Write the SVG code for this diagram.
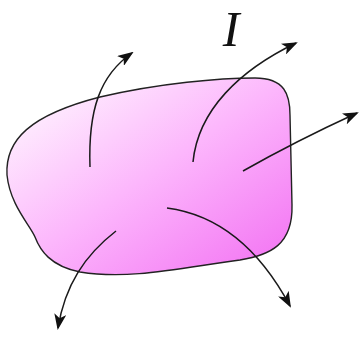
<svg xmlns="http://www.w3.org/2000/svg" width="359" height="337" viewBox="0 0 359 337">
<style>
.blob{stroke:#222;stroke-width:1.4;}
.arr{fill:none;stroke:#1a1a1a;stroke-width:1.5;marker-end:url(#ah);}
.lbl{font-family:"Liberation Serif",serif;font-style:italic;font-size:50px;fill:#111;}
</style>
<defs>
<linearGradient id="g" x1="0" y1="0" x2="1" y2="1">
<stop offset="0" stop-color="#ffffff"/>
<stop offset="0.5" stop-color="#fcb6fc"/>
<stop offset="1" stop-color="#f26ef2"/>
</linearGradient>
<marker id="ah" markerUnits="userSpaceOnUse" markerWidth="16" markerHeight="12" viewBox="0 0 16 12" refX="14" refY="6" orient="auto">
<path d="M0,0 L16,6 L0,12 L4,6 Z" fill="#111"/>
</marker>
</defs>
<g id="region">
<path class="blob" fill="url(#g)" d="M 7,175 C 5,140 30,115 100,97 C 160,83 220,78 255,78 C 285,78 290,95 290,115 L 292,205 C 293,245 270,255 240,260 C 180,268 130,280 80,272 C 50,266 40,250 35,237 C 30,225 10,205 7,175 Z"/>
</g>
<g id="label-I">
<text class="lbl" x="231" y="46" text-anchor="middle">I</text>
</g>
<g id="connectors">
<path class="arr" d="M 90,167 C 88,110 100,75 132,53"/>
<path class="arr" d="M 193,162 C 198,110 240,70 296,43"/>
<path class="arr" d="M 243,171 C 280,150 320,130 357,113"/>
<path class="arr" d="M 167,208 C 220,215 260,250 290,306"/>
<path class="arr" d="M 116,231 C 85,255 65,285 58,328"/>
</g>
</svg>
